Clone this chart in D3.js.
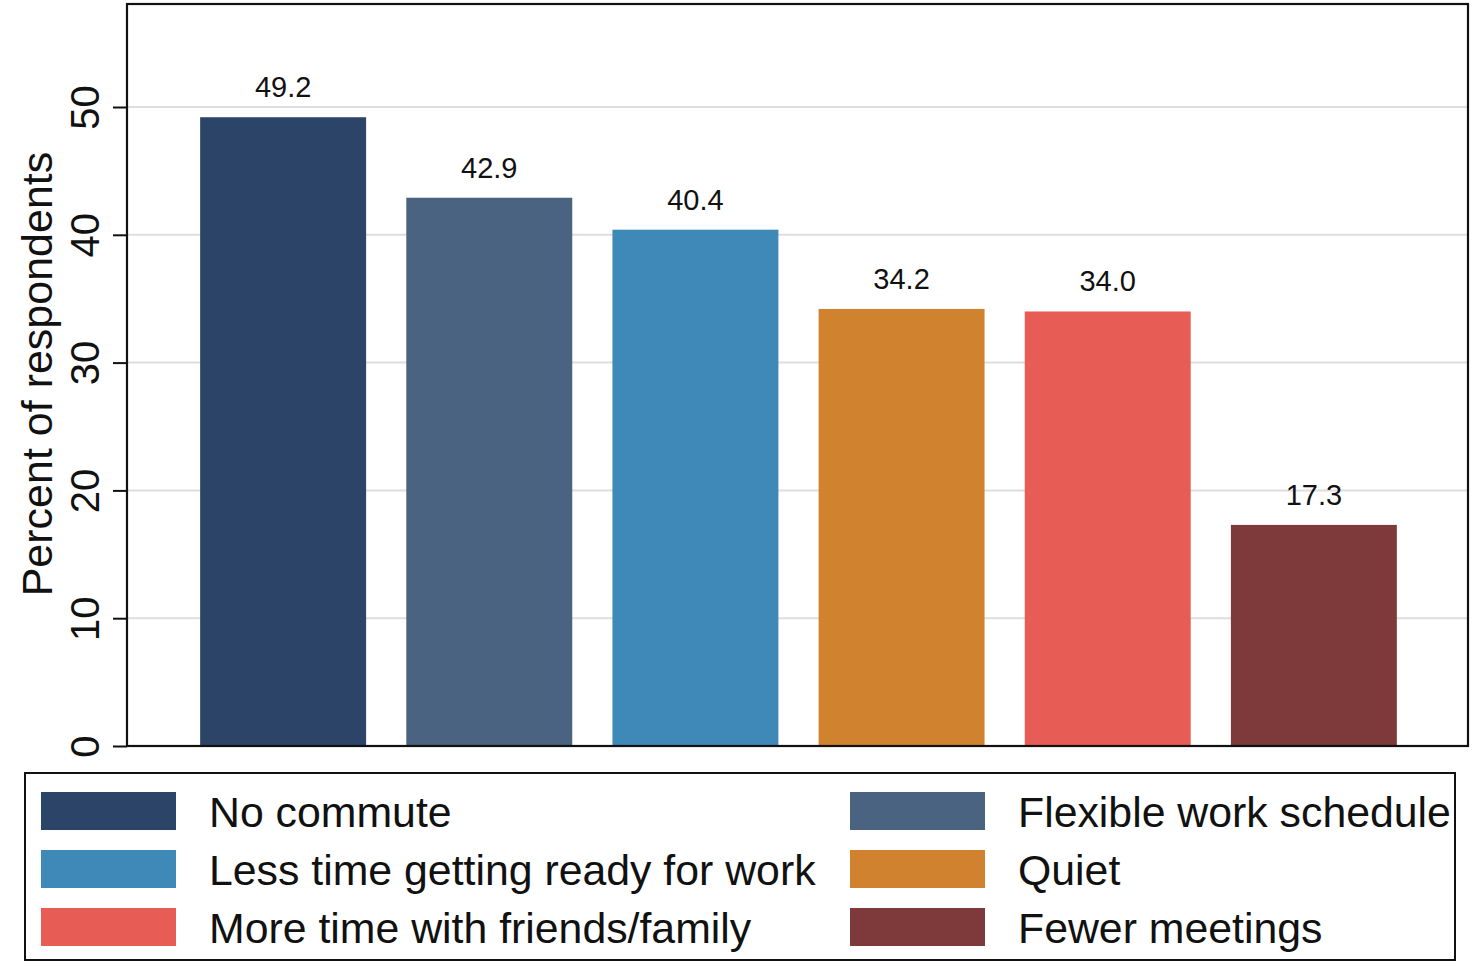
<!DOCTYPE html>
<html>
<head>
<meta charset="utf-8">
<script src="https://cdn.jsdelivr.net/npm/d3@7"></script>
<style>
  html, body { margin: 0; padding: 0; background: #fff; }
  svg { display: block; font-family: "Liberation Sans", Arial, Helvetica, sans-serif; }
</style>
</head>
<body>
<svg id="chart" width="1481" height="963"></svg>
<script>
// Reasons respondents give for liking working from home
const categories = [
  "No commute",
  "Flexible work schedule",
  "Less time getting ready for work",
  "Quiet",
  "More time with friends/family",
  "Fewer meetings"
];
const values = [49.2, 42.9, 40.4, 34.2, 34.0, 17.3];
const colors = ["#2b4468", "#4a6381", "#3f89b9", "#d1822f", "#e75c54", "#7e3a3b"];
const yTicks = [0, 10, 20, 30, 40, 50];
const yTitle = "Percent of respondents";

const svg = d3.select("#chart");

const plot = { left: 127, right: 1468, top: 4, bottom: 746 };

const x = d3.scaleBand()
  .domain(categories)
  .range([plot.left + 1, plot.right + 1])
  .paddingInner(0.195)
  .paddingOuter(0.35);

const y = d3.scaleLinear()
  .domain([0, 58.06])
  .range([plot.bottom, plot.top]);

// Gridlines
svg.append("g")
  .selectAll("line")
  .data(yTicks.filter(d => d > 0))
  .join("line")
  .attr("x1", plot.left)
  .attr("x2", plot.right)
  .attr("y1", d => y(d))
  .attr("y2", d => y(d))
  .attr("stroke", "#dedede")
  .attr("stroke-width", 2);

// Bars
svg.append("g")
  .selectAll("rect")
  .data(categories)
  .join("rect")
  .attr("x", d => x(d))
  .attr("width", x.bandwidth())
  .attr("y", (d, i) => y(values[i]))
  .attr("height", (d, i) => y(0) - y(values[i]))
  .attr("fill", (d, i) => colors[i]);

// Value labels
svg.append("g")
  .selectAll("text")
  .data(categories)
  .join("text")
  .attr("x", d => x(d) + x.bandwidth() / 2)
  .attr("y", (d, i) => y(values[i]) - 20)
  .attr("text-anchor", "middle")
  .attr("font-size", 29)
  .attr("fill", "#111")
  .text((d, i) => values[i].toFixed(1));

// Plot frame
svg.append("rect")
  .attr("x", plot.left)
  .attr("y", plot.top)
  .attr("width", plot.right - plot.left)
  .attr("height", plot.bottom - plot.top)
  .attr("fill", "none")
  .attr("stroke", "#111")
  .attr("stroke-width", 2.2);

// Y axis with rotated tick labels
const yAxis = svg.append("g")
  .attr("transform", `translate(${plot.left},0)`)
  .call(d3.axisLeft(y).tickValues(yTicks).tickSize(14).tickFormat(d3.format("d")));
yAxis.select(".domain").remove();
yAxis.selectAll(".tick line").attr("stroke", "#111").attr("stroke-width", 2);
yAxis.selectAll(".tick text")
  .attr("font-size", 40)
  .attr("font-family", "Liberation Sans, Arial, sans-serif")
  .attr("fill", "#111")
  .attr("x", null)
  .attr("dy", null)
  .attr("text-anchor", "middle")
  .attr("transform", "translate(-28,0) rotate(-90)");

// Y axis title
svg.append("text")
  .attr("transform", `translate(52, ${(y(0) + y(58.06)) / 2 - 1}) rotate(-90)`)
  .attr("text-anchor", "middle")
  .attr("font-size", 43)
  .attr("fill", "#111")
  .text(yTitle);

// Legend
const legend = svg.append("g");
legend.append("rect")
  .attr("x", 25)
  .attr("y", 773)
  .attr("width", 1430)
  .attr("height", 187)
  .attr("fill", "#fff")
  .attr("stroke", "#111")
  .attr("stroke-width", 2);

const colX = [41, 850];
const rowY = [792, 850, 908];
const items = legend.selectAll("g.item")
  .data(categories)
  .join("g")
  .attr("class", "item")
  .attr("transform", (d, i) => `translate(${colX[i % 2]},${rowY[Math.floor(i / 2)]})`);

items.append("rect")
  .attr("width", 135)
  .attr("height", 38)
  .attr("fill", (d, i) => colors[i]);

items.append("text")
  .attr("x", 168)
  .attr("y", 20)
  .attr("dy", "0.35em")
  .attr("font-size", 42.8)
  .attr("fill", "#111")
  .text(d => d);
</script>
</body>
</html>
